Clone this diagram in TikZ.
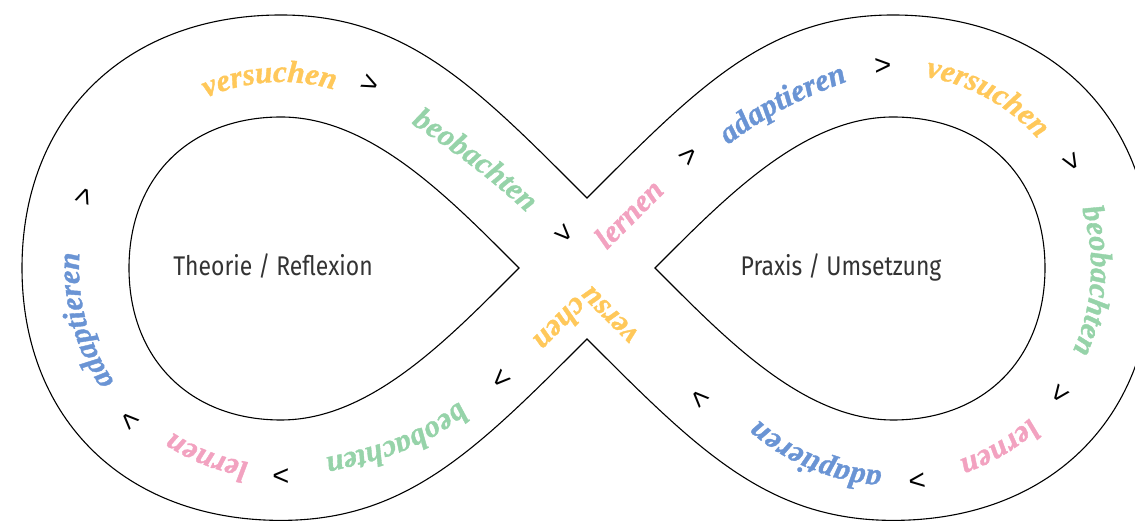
\documentclass[tikz,border=0pt]{standalone}
\usepackage{fontspec}
\usetikzlibrary{decorations.text,calc}
\newfontfamily\wordfont{Liberation Serif Bold Italic}[FakeBold=1.2]
\newfontfamily\labfont{Fira Sans}[FakeStretch=0.85]
\newfontfamily\chevfont{Liberation Sans}
\definecolor{wyel}{HTML}{FFC85A}
\definecolor{wgrn}{HTML}{96D3A9}
\definecolor{wpnk}{HTML}{F2A2C0}
\definecolor{wblu}{HTML}{6A94D4}
\definecolor{labgray}{HTML}{333333}
\newcommand\wfont{\wordfont\fontsize{31}{31}\selectfont}
\begin{document}
\begin{tikzpicture}[x=1pt,y=1pt,
  outline/.style={line width=1.1pt, draw=black},
  lab/.style={font=\labfont\fontsize{27}{27}\selectfont, text=labgray, anchor=base, inner sep=0pt},
  chev/.style={font=\chevfont\fontsize{29}{29}\selectfont, inner sep=0pt},
  word/.style 2 args={decorate, decoration={text along path, text align=center, text color=#1, text={|\wfont|#2}}},
  wordr/.style 2 args={decorate, decoration={text along path, text align=right, text color=#1, text={|\wfont|#2}}},
  wordl/.style 2 args={decorate, decoration={text along path, text align=left, text color=#1, text={|\wfont|#2}}}
]
\clip (0,0) rectangle (1135,521);
\coordinate (L) at (281,253);
\coordinate (R) at (893,253);
% outer band outline
\draw[outline] (587,323) .. controls (477,433) and (407,506) .. (281,506)
 .. controls (126,506) and (22,405) .. (22,253)
 .. controls (22,101) and (126,0.6) .. (281,0.6)
 .. controls (407,0.6) and (477,72) .. (587,182)
 .. controls (697,72) and (767,0.6) .. (893,0.6)
 .. controls (1048,0.6) and (1152,101) .. (1152,253)
 .. controls (1152,405) and (1048,506) .. (893,506)
 .. controls (767,506) and (697,433) .. (587,323) -- cycle;
% inner teardrops
\draw[outline] (519,253) .. controls (449,323) and (371,404) .. (281,404)
 .. controls (190,404) and (129,344) .. (129,253)
 .. controls (129,162) and (190,101) .. (281,101)
 .. controls (371,101) and (449,183) .. (519,253) -- cycle;
\draw[outline] (655,253) .. controls (725,323) and (803,404) .. (893,404)
 .. controls (984,404) and (1045,344) .. (1045,253)
 .. controls (1045,162) and (984,101) .. (893,101)
 .. controls (803,101) and (725,183) .. (655,253) -- cycle;
% labels
\node[lab] (theo) at (273,245) {Theorie / Reflexion};
\node[lab] (prax) at (841,245) {Praxis / Umsetzung};
% words along the band
\path[word={wyel}{versuchen}] ($(L)+(123.5:186pt)$) arc[start angle=123.5,end angle=63.5,radius=186pt];
\path[word={wgrn}{beobachten}] (389,412) to[out=-33,in=136] (546,290);
\path[word={wpnk}{lernen}] (576,240) -- (696,360);
\path[word={wblu}{adaptieren}] (712,363) to[out=40,in=200] (867,447);
\path[word={wyel}{versuchen}] ($(R)+(91:194pt)$) arc[start angle=91,end angle=31,radius=194pt];
\path[word={wgrn}{beobachten}] ($(R)+(21.3:198pt)$) arc[start angle=21.3,end angle=-28.7,radius=198pt];
\path[word={wpnk}{lernen}] ($(R)+(-44.4:203pt)$) arc[start angle=-44.4,end angle=-74.4,radius=203pt];
\path[word={wblu}{adaptieren}] ($(R)+(-87.4:203pt)$) arc[start angle=-87.4,end angle=-137.4,radius=203pt];
\path[wordr={wyel}{versu}] (680,146.8) -- (590.4,236.4);
\path[wordl={wyel}{chen}] (575.6,225.4) -- (485.6,135.4);
\path[word={wgrn}{beobachten}] (474,133.5) to[out=225,in=12.7] (304.5,58.6);
\path[word={wpnk}{lernen}] ($(L)+(268.5:197pt)$) arc[start angle=268.5,end angle=228.5,radius=197pt];
\path[word={wblu}{adaptieren}] ($(L)+(220:202pt)$) arc[start angle=220,end angle=170,radius=202pt];
% chevrons
\node[chev, rotate=-26] (c1) at (370,436) {>};
\node[chev, rotate=-45] (c2) at (563,286) {>};
\node[chev, rotate=45] (c3) at (690,364) {>};
\node[chev, rotate=3] (c4) at (883,454) {>};
\node[chev, rotate=-59.5] (c5) at (1071,358) {>};
\node[chev, rotate=-127] (c6) at (1059,128) {>};
\node[chev, rotate=-173.5] (c7) at (917,41) {>};
\node[chev, rotate=135] (c8) at (701,124) {>};
\node[chev, rotate=-135] (c9) at (500,143) {>};
\node[chev, rotate=180] (c10) at (281,46) {>};
\node[chev, rotate=135.4] (c11) at (131,101) {>};
\node[chev, rotate=70] (c12) at (85,324) {>};
\end{tikzpicture}
\end{document}
